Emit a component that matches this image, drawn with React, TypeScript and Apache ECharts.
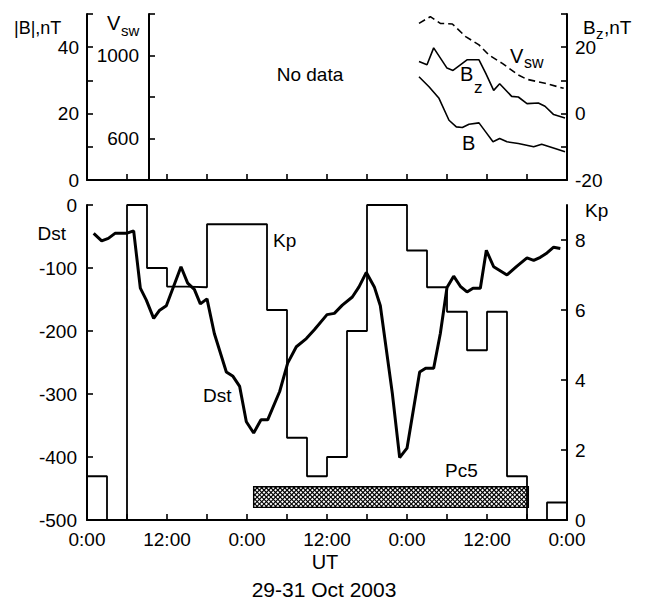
import React, { useEffect, useRef } from "react";
import * as echarts from "echarts";

const FONT = '"Liberation Sans", Arial, Helvetica, sans-serif';

// ---- data (hours since 29 Oct 2003 00:00 UT) ----
const kpStartHours = [0, 3, 6, 9, 12, 15, 18, 21, 24, 27, 30, 33, 36, 39, 42, 45, 48, 51, 54, 57, 60, 63, 66, 69];
const kpValues = [1.25, 0, 9, 7.2, 6.67, 6.65, 8.45, 8.45, 8.45, 6, 2.35, 1.25, 1.8, 5.4, 9, 9, 7.7, 6.65, 5.95, 4.85, 5.95, 1.25, 0, 0.5];
const kpEndHour = 72;

const dstHours = [1.0, 2.2, 3.2, 4.2, 5.9, 7.0, 8.0, 8.9, 10.0, 10.9, 11.9, 14.1, 15.1, 16.1, 17.0, 18.0, 19.1, 20.9, 21.9, 22.9, 23.9, 25.0, 26.1, 27.1, 28.9, 30.1, 31.4, 32.9, 34.1, 36.0, 37.1, 38.3, 39.8, 40.8, 41.9, 43.1, 44.0, 45.8, 46.9, 48.0, 49.9, 50.8, 52.0, 53.0, 54.0, 55.0, 56.0, 57.0, 57.9, 59.0, 59.9, 61.0, 63.0, 64.5, 66.0, 67.0, 68.0, 69.0, 70.0, 71.0];
const dstValues = [-45, -57, -53, -45, -45, -41, -132, -151, -180, -167, -160, -98, -124, -134, -157, -149, -204, -265, -272, -288, -344, -362, -341, -341, -296, -251, -225, -212, -198, -174, -172, -159, -146, -130, -107, -130, -160, -299, -401, -386, -265, -259, -259, -204, -131, -113, -129, -138, -132, -132, -72, -98, -111, -97, -84, -88, -83, -76, -67, -69];

const vswHours = [49.8, 51.5, 53.0, 54.8, 56.8, 58.8, 60.3, 62.3, 64.7, 66.0, 68.7, 71.5];
const vswValues = [1155, 1187, 1155, 1152, 1091, 1051, 1002, 962, 906, 885, 866, 842];

const bzHours = [49.8, 51.0, 52.0, 54.0, 54.9, 57.0, 58.8, 59.8, 61.0, 61.9, 63.7, 64.7, 66.0, 67.7, 68.7, 70.0, 71.7];
const bzValues = [15.7, 14.7, 19.8, 13.7, 13.0, 16.2, 16.2, 12.2, 7.0, 9.0, 5.2, 5.0, 3.0, 3.2, 2.2, -0.3, -1.3];

const bHours = [49.8, 51.3, 52.8, 54.3, 55.4, 56.3, 57.3, 58.8, 59.8, 60.9, 61.9, 63.0, 64.7, 67.0, 68.2, 70.2, 71.7];
const bValues = [31.1, 28.1, 24.6, 18.0, 16.0, 15.8, 16.8, 17.2, 14.5, 11.5, 12.5, 11.5, 11.0, 10.0, 10.8, 9.5, 8.5];

const pc5Hours = [25.0, 66.2];
const pc5KpRange = [0.36, 0.95];

const kpTicks = [0, 2, 4, 6, 8];

const zip = (xs: number[], ys: number[]) => xs.map((x, i) => [x, ys[i]]);

export default function App() {
  const ref = useRef<HTMLDivElement>(null);

  useEffect(() => {
    document.body.style.margin = "0";
    if (!ref.current) return;
    const chart = echarts.init(ref.current, null, { renderer: "svg" });

    const axisLine = { show: true, onZero: false, lineStyle: { color: "#000", width: 2 } };
    const tick = { show: true, inside: true, length: 6, lineStyle: { color: "#000", width: 1.6 } };
    const lbl = { color: "#000", fontSize: 19, fontFamily: FONT };

    const xFormatter = (v: number) => (v % 24 === 0 ? "0:00" : v % 12 === 0 ? "12:00" : "");

    const txt = (text: string, x: number, y: number, size = 19, align = "left") => ({
      type: "text",
      x,
      y,
      silent: true,
      style: { text, fill: "#000", font: `${size}px ${FONT}`, textAlign: align, textVerticalAlign: "middle" },
    });

    const kpData = zip(kpStartHours, kpValues);
    kpData.push([kpEndHour, kpValues[kpValues.length - 1]]);

    const option: any = {
      animation: false,
      backgroundColor: "#fff",
      grid: [
        { left: 87, right: 87, top: 14, height: 166 },
        { left: 87, right: 87, top: 205, height: 315 },
      ],
      xAxis: [
        {
          type: "value", gridIndex: 0, min: 0, max: 72, interval: 6,
          axisLine, axisTick: tick, axisLabel: { show: false }, splitLine: { show: false },
        },
        {
          type: "value", gridIndex: 1, min: 0, max: 72, interval: 6,
          axisLine, axisTick: tick,
          axisLabel: { ...lbl, margin: 10, formatter: xFormatter, showMinLabel: true, showMaxLabel: true },
          splitLine: { show: false },
        },
      ],
      yAxis: [
        {
          type: "value", gridIndex: 0, position: "left", min: 0, max: 50, interval: 10,
          axisLine, axisTick: tick,
          axisLabel: { ...lbl, margin: 8, formatter: (v: number) => (v % 20 === 0 ? String(v) : "") },
          splitLine: { show: false },
        },
        {
          type: "value", gridIndex: 0, position: "left", offset: -62, min: 400, max: 1200, interval: 200,
          axisLine, axisTick: tick,
          axisLabel: { ...lbl, margin: 10, formatter: (v: number) => (v === 600 || v === 1000 ? String(v) : "") },
          splitLine: { show: false },
        },
        {
          type: "value", gridIndex: 0, position: "right", min: -20, max: 30, interval: 10,
          axisLine, axisTick: tick,
          axisLabel: { ...lbl, margin: 8, formatter: (v: number) => (v % 20 === 0 ? String(v) : "") },
          splitLine: { show: false },
        },
        {
          type: "value", gridIndex: 1, position: "left", min: -500, max: 0, interval: 100,
          axisLine, axisTick: tick,
          axisLabel: { ...lbl, margin: 10 },
          splitLine: { show: false },
        },
        {
          type: "value", gridIndex: 1, position: "right", min: 0, max: 9,
          axisLine,
          axisTick: { ...tick, customValues: kpTicks },
          axisLabel: { ...lbl, margin: 8, customValues: kpTicks },
          splitLine: { show: false },
        },
      ],
      series: [
        {
          name: "B", type: "line", xAxisIndex: 0, yAxisIndex: 0, data: zip(bHours, bValues),
          symbol: "none", lineStyle: { color: "#000", width: 1.6 },
        },
        {
          name: "Bz", type: "line", xAxisIndex: 0, yAxisIndex: 2, data: zip(bzHours, bzValues),
          symbol: "none", lineStyle: { color: "#000", width: 1.6 },
        },
        {
          name: "Vsw", type: "line", xAxisIndex: 0, yAxisIndex: 1, data: zip(vswHours, vswValues),
          symbol: "none", lineStyle: { color: "#000", width: 1.6, type: [7, 4] },
        },
        {
          name: "Dst", type: "line", xAxisIndex: 1, yAxisIndex: 3, data: zip(dstHours, dstValues),
          symbol: "none", lineStyle: { color: "#000", width: 3 },
        },
        {
          name: "Kp", type: "line", xAxisIndex: 1, yAxisIndex: 4, data: kpData, step: "end",
          symbol: "none", clip: false, lineStyle: { color: "#000", width: 1.8 },
        },
        {
          name: "Pc5", type: "custom", xAxisIndex: 1, yAxisIndex: 4,
          data: [[pc5Hours[0], pc5Hours[1], pc5KpRange[0], pc5KpRange[1]]],
          renderItem: (params: any, api: any) => {
            const p0 = api.coord([api.value(0), api.value(3)]);
            const p1 = api.coord([api.value(1), api.value(2)]);
            const x0 = p0[0], y0 = p0[1], x1 = p1[0], y1 = p1[1];
            const w = x1 - x0, h = y1 - y0;
            const children: any[] = [];
            const step = 4.6;
            const ls = { stroke: "#000", lineWidth: 1.1 };
            for (let o = -h; o < w; o += step) {
              const sA = Math.max(0, -o);
              const sB = Math.min(h, w - o);
              if (sB <= sA) continue;
              children.push({ type: "line", shape: { x1: x0 + o + sA, y1: y1 - sA, x2: x0 + o + sB, y2: y1 - sB }, style: ls });
              children.push({ type: "line", shape: { x1: x0 + o + sA, y1: y0 + sA, x2: x0 + o + sB, y2: y0 + sB }, style: ls });
            }
            children.push({ type: "rect", shape: { x: x0, y: y0, width: w, height: h }, style: { fill: "none", stroke: "#000", lineWidth: 1.4 } });
            return { type: "group", children };
          },
        },
      ],
      graphic: [
        txt("|B|,nT", 14, 28, 18),
        txt("V", 107, 23, 20),
        txt("sw", 121, 30, 15),
        txt("B", 583, 27, 19),
        txt("z", 596, 33, 15),
        txt(",nT", 604, 27, 19),
        txt("No data", 310, 74, 19, "center"),
        txt("V", 510, 56, 20),
        txt("sw", 524, 62, 16),
        txt("B", 460, 74, 20),
        txt("z", 474, 87, 17),
        txt("B", 462, 143, 20),
        txt("Dst", 66, 233, 19, "right"),
        txt("Kp", 585, 210, 19),
        txt("Kp", 273, 240, 19),
        txt("Dst", 203, 395, 19),
        txt("Pc5", 445, 470, 19),
        txt("UT", 325, 562, 20, "center"),
        txt("29-31 Oct 2003", 324, 589, 21, "center"),
      ],
    };

    chart.setOption(option);
    return () => chart.dispose();
  }, []);

  return <div ref={ref} style={{ width: 654, height: 600 }} />;
}
